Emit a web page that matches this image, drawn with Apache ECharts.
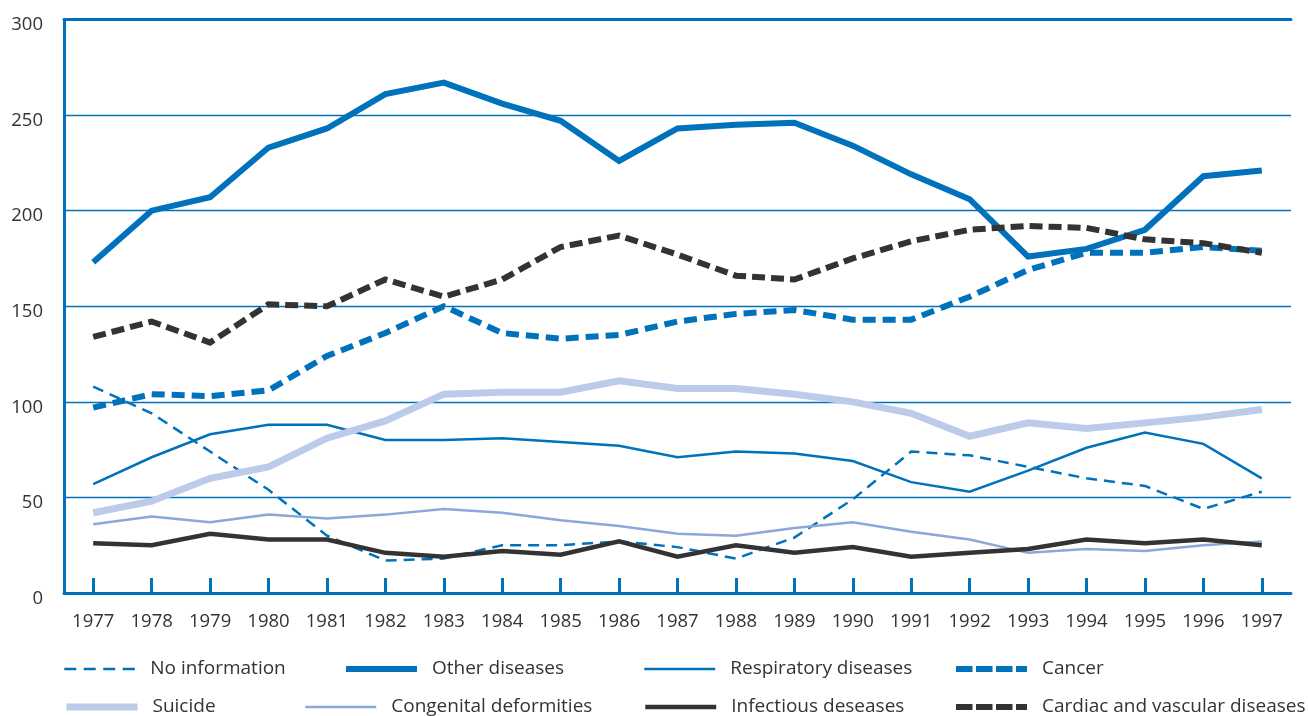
<!DOCTYPE html>
<html>
<head>
<meta charset="utf-8">
<script src="https://cdn.jsdelivr.net/npm/echarts@6/dist/echarts.min.js"></script>
<style>
  html, body { margin: 0; padding: 0; background: #fff; }
  #chart { width: 1308px; height: 716px; }
</style>
</head>
<body>
<div id="chart"></div>
<script>
// data
const years = ['1977', '1978', '1979', '1980', '1981', '1982', '1983', '1984', '1985', '1986', '1987',
  '1988', '1989', '1990', '1991', '1992', '1993', '1994', '1995', '1996', '1997'];
const yTicks = [0, 50, 100, 150, 200, 250, 300];

const noInformation = [108, 94, 74, 54, 30, 17, 18, 25, 25, 27, 24, 18, 29, 49, 74, 72, 66, 60, 56, 44, 53];
const otherDiseases = [173, 200, 207, 233, 243, 261, 267, 256, 247, 226, 243, 245, 246, 234, 219, 206, 176, 180, 190, 218, 221];
const respiratory   = [57, 71, 83, 88, 88, 80, 80, 81, 79, 77, 71, 74, 73, 69, 58, 53, 64, 76, 84, 78, 60];
const cancer        = [97, 104, 103, 106, 124, 136, 150, 136, 133, 135, 142, 146, 148, 143, 143, 155, 169, 178, 178, 181, 179];
const suicide       = [42, 48, 60, 66, 81, 90, 104, 105, 105, 111, 107, 107, 104, 100, 94, 82, 89, 86, 89, 92, 96];
const congenital    = [36, 40, 37, 41, 39, 41, 44, 42, 38, 35, 31, 30, 34, 37, 32, 28, 21, 23, 22, 25, 27];
const infectious    = [26, 25, 31, 28, 28, 21, 19, 22, 20, 27, 19, 25, 21, 24, 19, 21, 23, 28, 26, 28, 25];
const cardiac       = [134, 142, 131, 151, 150, 164, 155, 164, 181, 187, 177, 166, 164, 175, 184, 190, 192, 191, 185, 183, 178];

const BLUE = '#0072BC';
const DARK = '#333333';
const LIGHT = '#BCCBEA';
const MID = '#8AA8DB';
const TEXT = '#333333';
const fontFamily = '"Open Sans", "Noto Sans", sans-serif';

const seriesDefs = [
  { name: 'No information', data: noInformation, color: BLUE, width: 2.5, type: [11, 7], legendType: [12, 7.5], left: 63, row: 0 },
  { name: 'Other diseases', data: otherDiseases, color: BLUE, width: 6, type: 'solid', left: 343, row: 0 },
  { name: 'Respiratory diseases', data: respiratory, color: BLUE, width: 2.5, type: 'solid', left: 643, row: 0 },
  { name: 'Cancer', data: cancer, color: BLUE, width: 6, type: [13, 7], legendType: [16.5, 3.5], left: 953, row: 0 },
  { name: 'Suicide', data: suicide, color: LIGHT, width: 7, type: 'solid', left: 63, row: 1 },
  { name: 'Congenital deformities', data: congenital, color: MID, width: 2.5, type: 'solid', left: 304, row: 1 },
  { name: 'Infectious deseases', data: infectious, color: DARK, width: 4.5, type: 'solid', left: 643, row: 1 },
  { name: 'Cardiac and vascular diseases', data: cardiac, color: DARK, width: 6, type: [13, 6], legendType: [16.5, 3.5], left: 953, row: 1 },
];

const rowTops = [659, 697];

const chart = echarts.init(document.getElementById('chart'));
chart.setOption({
  animation: false,
  backgroundColor: '#fff',
  grid: { left: 64, right: 17, top: 19.5, bottom: 123, containLabel: false },
  legend: seriesDefs.map(s => ({
    data: [s.name],
    left: s.left,
    top: rowTops[s.row],
    padding: 0,
    itemWidth: 71,
    itemHeight: 14,
    selectedMode: false,
    itemStyle: { opacity: 0 },
    lineStyle: { width: s.width, type: s.legendType || 'solid', color: s.color },
    textStyle: { color: TEXT, fontSize: 19, fontFamily, lineHeight: 20, padding: [0, 0, 0, 10] },
  })),
  xAxis: [{
    type: 'category',
    data: years,
    boundaryGap: true,
    axisLine: { lineStyle: { color: BLUE, width: 3 } },
    axisTick: { show: true, inside: true, length: 15, alignWithLabel: true, interval: 0, lineStyle: { color: BLUE, width: 3 } },
    axisLabel: { color: TEXT, fontSize: 18.5, fontFamily, margin: 19, interval: 0 },
    splitLine: { show: false },
  }, {
    type: 'category',
    position: 'top',
    data: years,
    axisLine: { lineStyle: { color: BLUE, width: 3 } },
    axisTick: { show: false },
    axisLabel: { show: false },
  }],
  yAxis: {
    type: 'value',
    min: yTicks[0],
    max: yTicks[yTicks.length - 1],
    interval: 50,
    axisLine: { show: true, lineStyle: { color: BLUE, width: 3 } },
    axisTick: { show: false },
    axisLabel: { color: TEXT, fontSize: 18.5, fontFamily, margin: 21, verticalAlign: 'top', lineHeight: 11 },
    splitLine: { show: true, lineStyle: { color: BLUE, width: 1.3 } },
  },
  series: seriesDefs.map(s => ({
    name: s.name,
    type: 'line',
    data: s.data,
    symbol: 'none',
    showSymbol: false,
    color: s.color,
    lineStyle: { color: s.color, width: s.width, type: s.type, cap: 'butt', join: 'miter' },
    emphasis: { disabled: true },
  })),
});
</script>
</body>
</html>
